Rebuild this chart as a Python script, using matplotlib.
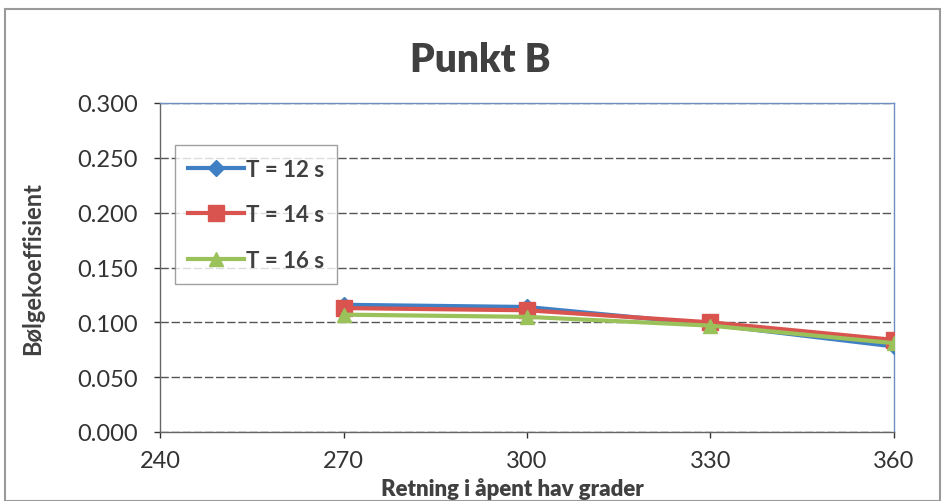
import matplotlib
matplotlib.use("Agg")
import matplotlib.pyplot as plt
from matplotlib.patches import Rectangle

# Wave coefficient at point B by open-sea direction
directions = [270, 300, 330, 360]
t12 = [0.116, 0.114, 0.098, 0.078]
t14 = [0.113, 0.111, 0.100, 0.084]
t16 = [0.107, 0.105, 0.097, 0.081]
series_labels = ["T = 12 s", "T = 14 s", "T = 16 s"]
x_ticks = [240, 270, 300, 330, 360]
y_ticks = [0.000, 0.050, 0.100, 0.150, 0.200, 0.250, 0.300]

plt.rcParams['font.family'] = ['Lato', 'DejaVu Sans']

fig = plt.figure(figsize=(9.44, 5.02), dpi=100)
fig.patch.set_facecolor("white")
fig.add_artist(Rectangle((5 / 944, 0.0), 935 / 944, 492 / 502, transform=fig.transFigure,
                         fill=False, edgecolor="#9a9a9a", linewidth=1.5))

ax = fig.add_axes([160 / 944, 69 / 502, 734 / 944, 329 / 502])

ax.plot(directions, t12, color="#3f7fc4", linewidth=3, marker="D", markersize=8,
        label=series_labels[0], zorder=3)
ax.plot(directions, t14, color="#d9534f", linewidth=3, marker="s", markersize=11,
        label=series_labels[1], zorder=4)
ax.plot(directions, t16, color="#9bc15a", linewidth=3, marker="^", markersize=10,
        label=series_labels[2], zorder=5)

ax.set_xlim(240, 360)
ax.set_ylim(0, 0.300)
ax.set_xticks(x_ticks)
ax.set_yticks(y_ticks)
ax.set_yticklabels([f"{v:.3f}" for v in y_ticks])
ax.tick_params(axis="both", labelsize=17, colors="#333333", length=4, width=1)
ax.tick_params(axis="x", pad=9)
ax.tick_params(axis="y", pad=12)
ax.grid(axis="y", color="#555555", linewidth=1, linestyle=(0, (6, 2)))
ax.set_axisbelow(True)

for side in ["left", "bottom"]:
    ax.spines[side].set_color("#666666")
    ax.spines[side].set_linewidth(1)
for side in ["top", "right"]:
    ax.spines[side].set_color("#6f8fc0")
    ax.spines[side].set_linewidth(1)

fig.text(480 / 944, 1 - 60 / 502, "Punkt B", fontsize=28, fontweight="heavy",
         color="#404040", ha="center", va="center")
ax.set_xlabel("Retning i åpent hav grader", fontsize=16, fontweight="heavy",
              color="#404040")
ax.xaxis.set_label_coords(0.48, -0.136)
ax.set_ylabel("Bølgekoeffisient", fontsize=17, fontweight="bold", color="#404040",
              labelpad=24)

leg = ax.legend(loc="upper left", bbox_to_anchor=(0.005, 0.905), frameon=True,
                fancybox=False, edgecolor="#888888", handlelength=2.5,
                labelspacing=1.1, borderpad=0.6, handletextpad=0.1,
                prop={"weight": "bold", "size": 16})
for txt in leg.get_texts():
    txt.set_color("#404040")

fig.savefig("out.png", dpi=100, facecolor="white")
